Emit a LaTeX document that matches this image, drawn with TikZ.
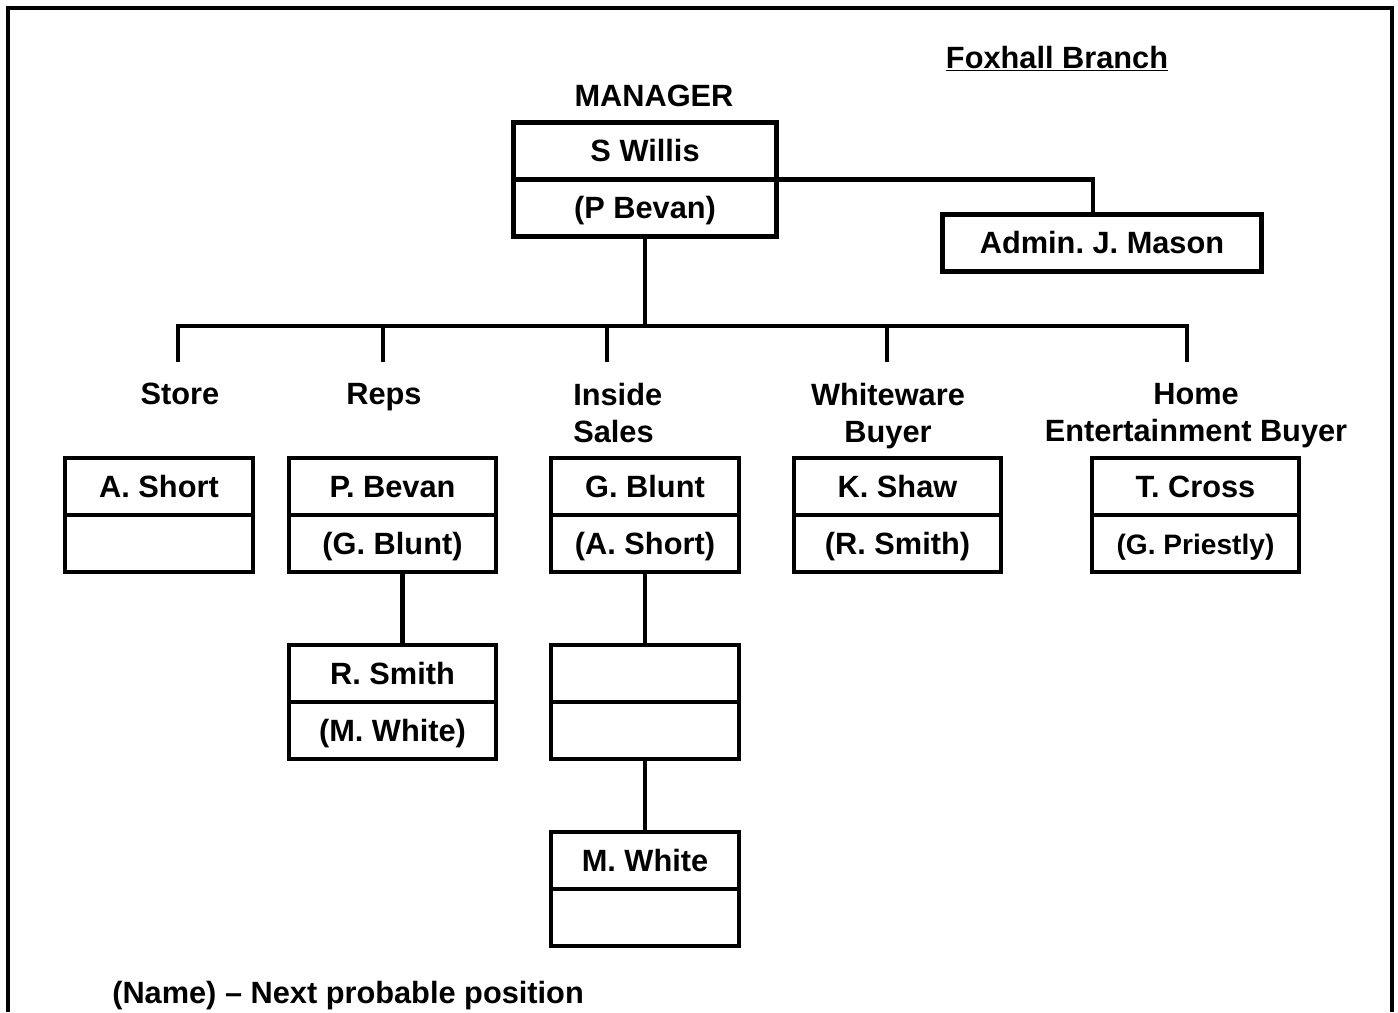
\documentclass[tikz,border=0pt]{standalone}
\usepackage{fontspec}
\setmainfont{Liberation Sans}
\usetikzlibrary{positioning}
\frenchspacing

\begin{document}
\begin{tikzpicture}[
    x=0.02cm, y=-0.02cm,
    line width=2.6pt,
    every node/.style={font=\bfseries\fontsize{17.5}{21}\selectfont},
    cell/.style={draw, inner sep=0pt, outer sep=0pt, minimum height=1.14cm,
        text height=12.5pt, text depth=0pt},
    narrow/.style={cell, minimum width=3.76cm},
    wide/.style={cell, minimum width=4.14cm},
    post/.style={anchor=north, inner sep=0pt, align=center}
]
\useasboundingbox (0,0) rectangle (1398,1012);
\draw[line width=2.8pt] (8,1012) -- (8,8) -- (1392,8) -- (1392,1012);

\node [anchor=base, inner sep=0pt] (fox) at (1057,68) {\underline{Foxhall Branch}};
\node [anchor=base, inner sep=0pt] (mlbl) at (654,106) {MANAGER};

% manager and admin
\node [cell, minimum width=5.26cm] (mgr1) at (645,151) {S Willis};
\node [cell, minimum width=5.26cm, below=0pt of mgr1] (mgr2) {(P Bevan)};
\node [cell, minimum width=6.38cm] (adm) at (1102,243) {Admin. J. Mason};

% section titles
\node [post] (store) at (180,381) {Store};
\node [post] (reps) at (384,381) {Reps};
\node [post, align=left, anchor=north west] (inside) at (571,381) {Inside\\Sales};
\node [post] (white) at (888,381) {Whiteware\\Buyer};
\node [post] (home) at (1196,381) {Home\\Entertainment Buyer};

% first row
\node [narrow] (st1) at (159,486.5) {A. Short};
\node [narrow, below=0pt of st1] (st2) {};
\node [wide] (rp1) at (392.5,486.5) {P. Bevan};
\node [wide, below=0pt of rp1] (rp2) {(G. Blunt)};
\node [narrow] (in1) at (645,486.5) {G. Blunt};
\node [narrow, below=0pt of in1] (in2) {(A. Short)};
\node [wide] (ww1) at (897.5,486.5) {K. Shaw};
\node [wide, below=0pt of ww1] (ww2) {(R. Smith)};
\node [wide] (he1) at (1195.5,486.5) {T. Cross};
\node [wide, below=0pt of he1, font=\bfseries\fontsize{16}{19}\selectfont] (he2) {(G. Priestly)};

% lower rows
\node [wide] (rs1) at (392.5,673.5) {R. Smith};
\node [wide, below=0pt of rs1] (rs2) {(M. White)};
\node [narrow] (in3) at (645,673.5) {};
\node [narrow, below=0pt of in3] (in4) {};
\node [narrow] (mw1) at (645,860.5) {M. White};
\node [narrow, below=0pt of mw1] (mw2) {};

\node [anchor=base west, inner sep=0pt] (key) at (110,1003) {(Name) -- Next probable position};

% connectors
\foreach \x [count=\i] in {178,383,607,887,1187} {
    \coordinate (top\i) at (\x,326);
    \coordinate (end\i) at (\x,362);
}
\draw (mgr2.south) -- (mgr2.south |- top1);
\draw (end1) -- (top1) -- (top5) -- (end5);
\foreach \i in {2,3,4}
    \draw (top\i) -- (end\i);
\draw (mgr1.south east) -| ([xshift=-0.18cm]adm.north);
\draw ([xshift=0.2cm]rp2.south) -- ([xshift=0.2cm]rs1.north);
\draw (in2.south) -- (in3.north);
\draw (in4.south) -- (mw1.north);
\end{tikzpicture}
\end{document}
